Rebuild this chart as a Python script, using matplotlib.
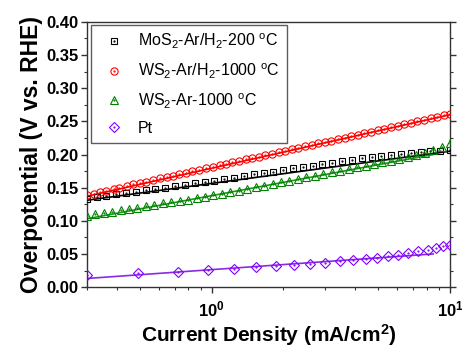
import matplotlib
matplotlib.use('Agg')
import matplotlib.pyplot as plt
from matplotlib.ticker import MultipleLocator, LogLocator, NullFormatter

plt.rcParams['font.family'] = ['Liberation Sans', 'DejaVu Sans']
plt.rcParams['mathtext.fontset'] = 'custom'
plt.rcParams['mathtext.rm'] = 'Liberation Sans'
plt.rcParams['mathtext.it'] = 'Liberation Sans:italic'
plt.rcParams['mathtext.bf'] = 'Liberation Sans:bold'

# MoS2-Ar/H2-200 C
mos2_x = [0.300, 0.330, 0.362, 0.398, 0.438, 0.482, 0.530, 0.582, 0.640, 0.703,
          0.774, 0.851, 0.935, 1.028, 1.130, 1.242, 1.367, 1.503, 1.652, 1.816,
          1.995, 2.193, 2.415, 2.655, 2.917, 3.206, 3.524, 3.873, 4.266, 4.688,
          5.152, 5.662, 6.223, 6.839, 7.534, 8.279, 9.099, 10.0]
mos2_y = [0.133, 0.1355, 0.138, 0.140, 0.142, 0.144, 0.146, 0.148, 0.150, 0.152,
          0.154, 0.1565, 0.1585, 0.1606, 0.163, 0.165, 0.1675, 0.170, 0.172, 0.174,
          0.1765, 0.179, 0.181, 0.183, 0.185, 0.1873, 0.1895, 0.1917, 0.194, 0.196,
          0.1975, 0.199, 0.2005, 0.202, 0.2035, 0.205, 0.206, 0.207]
mos2_fit_x = [0.3, 10.0]
mos2_fit_y = [0.131, 0.205]

# WS2-Ar/H2-1000 C
ws2h_x = [0.30, 0.32, 0.34, 0.36, 0.39, 0.41, 0.44, 0.47, 0.50, 0.53,
          0.57, 0.61, 0.65, 0.69, 0.73, 0.78, 0.83, 0.89, 0.95, 1.01,
          1.08, 1.15, 1.22, 1.30, 1.39, 1.48, 1.58, 1.68, 1.79, 1.91,
          2.04, 2.17, 2.31, 2.47, 2.63, 2.80, 2.99, 3.18, 3.39, 3.62,
          3.86, 4.11, 4.38, 4.67, 4.98, 5.31, 5.66, 6.03, 6.43, 6.85,
          7.30, 7.79, 8.30, 8.85, 9.43, 10.0]
ws2h_y = [0.139, 0.141, 0.1435, 0.1455, 0.148, 0.150, 0.152, 0.155, 0.157, 0.159,
          0.1615, 0.164, 0.166, 0.168, 0.170, 0.1725, 0.1745, 0.177, 0.179, 0.181,
          0.184, 0.186, 0.188, 0.190, 0.1925, 0.1945, 0.197, 0.199, 0.201, 0.2035,
          0.206, 0.208, 0.210, 0.2125, 0.2145, 0.217, 0.219, 0.221, 0.2235, 0.2255,
          0.228, 0.230, 0.232, 0.2345, 0.237, 0.239, 0.241, 0.2435, 0.2455, 0.248,
          0.250, 0.2525, 0.2545, 0.257, 0.259, 0.261]
ws2h_fit_x = [0.3, 10.0]
ws2h_fit_y = [0.137, 0.260]

# WS2-Ar-1000 C
ws2_x = [0.300, 0.325, 0.353, 0.383, 0.416, 0.451, 0.489, 0.531, 0.576, 0.625,
         0.678, 0.736, 0.798, 0.866, 0.940, 1.019, 1.106, 1.200, 1.302, 1.413,
         1.532, 1.663, 1.804, 1.957, 2.123, 2.303, 2.499, 2.712, 2.942, 3.192,
         3.464, 3.758, 4.077, 4.424, 4.800, 5.208, 5.650, 6.130, 6.650, 7.215,
         7.834, 8.497, 9.226, 10.0]
ws2_y = [0.108, 0.110, 0.112, 0.114, 0.116, 0.118, 0.1195, 0.1225, 0.1245, 0.1265,
         0.1285, 0.130, 0.132, 0.134, 0.136, 0.1385, 0.141, 0.143, 0.1455, 0.148,
         0.1505, 0.153, 0.1555, 0.158, 0.1605, 0.163, 0.1655, 0.168, 0.1705, 0.173,
         0.1755, 0.178, 0.1805, 0.183, 0.1855, 0.188, 0.1905, 0.193, 0.196, 0.199,
         0.203, 0.207, 0.212, 0.217]
ws2_fit_x = [0.3, 8.5]
ws2_fit_y = [0.103, 0.200]

# Pt
pt_x = [0.30, 0.49, 0.72, 0.97, 1.24, 1.53, 1.86, 2.21, 2.58, 2.99, 3.45,
        3.91, 4.44, 4.93, 5.49, 6.05, 6.66, 7.34, 8.08, 8.73, 9.35, 10.0]
pt_y = [0.018, 0.022, 0.023, 0.026, 0.028, 0.030, 0.032, 0.034, 0.035, 0.037, 0.039,
        0.041, 0.042, 0.044, 0.047, 0.049, 0.051, 0.054, 0.056, 0.059, 0.062, 0.064]
pt_fit_x = [0.3, 8.5]
pt_fit_y = [0.013, 0.050]

labels = [r'MoS$_\mathregular{2}$-Ar/H$_\mathregular{2}$-200 $^\mathregular{o}$C',
          r'WS$_\mathregular{2}$-Ar/H$_\mathregular{2}$-1000 $^\mathregular{o}$C',
          r'WS$_\mathregular{2}$-Ar-1000 $^\mathregular{o}$C',
          'Pt']

fig = plt.figure(figsize=(4.62, 3.48), dpi=100)
ax = fig.add_axes([0.188, 0.175, 0.786, 0.762])

series = [
    (mos2_x, mos2_y, mos2_fit_x, mos2_fit_y, 's', 4.3, 'black', 'black'),
    (ws2h_x, ws2h_y, ws2h_fit_x, ws2h_fit_y, 'o', 5.2, '#ff0000', '#ff0000'),
    (ws2_x, ws2_y, ws2_fit_x, ws2_fit_y, '^', 5.2, '#008000', '#1a9a1a'),
    (pt_x, pt_y, pt_fit_x, pt_fit_y, 'D', 4.6, '#8000ff', '#8a2be2'),
]

handles = []
for x, y, fx, fy, m, ms, c, lc in series:
    ax.plot(fx, fy, '-', color=lc, lw=1.2, zorder=2)
    h1, = ax.plot(x, y, m, ms=ms, mfc='none', mec=c, mew=0.8, ls='none', zorder=3)
    h2, = ax.plot(x, y, '.', ms=1.2, color=c, ls='none', zorder=3)
    handles.append((h1, h2))

ax.set_xscale('log')
ax.set_xlim(0.3, 10)
ax.set_ylim(0, 0.40)
ax.set_xticks([1, 10])
ax.set_xticklabels([r'10$^{\mathbf{0}}$', r'10$^{\mathbf{1}}$'])
ax.xaxis.set_minor_locator(LogLocator(base=10, subs=range(2, 10)))
ax.xaxis.set_minor_formatter(NullFormatter())
ax.yaxis.set_major_locator(MultipleLocator(0.05))
ax.yaxis.set_minor_locator(MultipleLocator(0.025))
ax.set_yticklabels(['%.2f' % v for v in ax.get_yticks()])

ax.tick_params(which='both', direction='out', right=True, top=False, color='#333333')
ax.tick_params(which='major', length=4, width=1, labelsize=12, pad=2)
ax.tick_params(axis='x', which='major', pad=5)
ax.tick_params(which='minor', length=2.2, width=0.8)
for lab in ax.get_xticklabels() + ax.get_yticklabels():
    lab.set_fontweight('bold')
for s in ax.spines.values():
    s.set_color('#333333')
    s.set_linewidth(1.0)

ax.set_ylabel('Overpotential (V vs. RHE)', fontsize=16.5, fontweight='bold', labelpad=2)
ax.set_xlabel(r'Current Density (mA/cm$^{\mathbf{2}}$)', fontsize=15, fontweight='bold', labelpad=1.8)

leg = ax.legend(handles, labels, loc='upper left', bbox_to_anchor=(0.011, 0.989),
                borderaxespad=0, fontsize=11.5, frameon=True, fancybox=False,
                handlelength=2.0, handletextpad=0.5, labelspacing=0.65,
                borderpad=0.45)
leg.get_frame().set_edgecolor('#333333')
leg.get_frame().set_linewidth(1.0)

fig.savefig('out.png', dpi=100)
